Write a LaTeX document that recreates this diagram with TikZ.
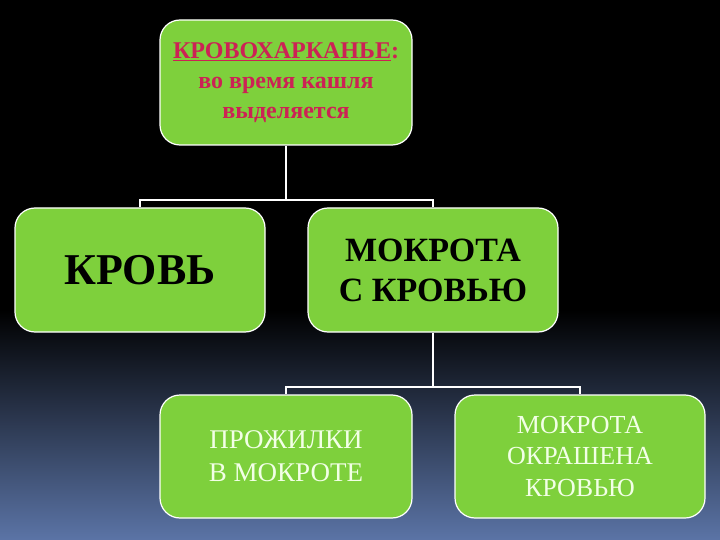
\documentclass[tikz,border=0pt]{standalone}
\usepackage{fontspec}
\setmainfont{Liberation Serif}
\definecolor{boxgreen}{HTML}{7ED03C}
\definecolor{crim}{HTML}{CC2255}
\definecolor{bgblue}{HTML}{5B74A6}
\definecolor{paletxt}{HTML}{F2FFE6}
\tikzset{
  gbox/.style={draw=white, line width=1.2pt, fill=boxgreen, rounded corners=20pt, align=center, inner sep=0pt},
  conn/.style={draw=white, line width=2pt}
}
\begin{document}
\begin{tikzpicture}[x=1pt,y=-1pt]
\useasboundingbox (0,0) rectangle (720,540);
\fill[black] (0,0) rectangle (720,540);
\shade[top color=black, bottom color=bgblue] (0,310) rectangle (720,540);
\node[gbox, minimum width=252pt, minimum height=125pt, text=crim, font=\bfseries\fontsize{24}{30}\selectfont] (top) at (286,82.5)
  {\underline{КРОВОХАРКАНЬЕ}:\\во время кашля\\выделяется};
\node[gbox, minimum width=250pt, minimum height=124pt, font=\bfseries\fontsize{44}{50}\selectfont] (km) at (140,270) {КРОВЬ};
\node[gbox, minimum width=250pt, minimum height=124pt, font=\bfseries\fontsize{34}{40}\selectfont] (mk) at (433,270) {МОКРОТА\\С КРОВЬЮ};
\node[gbox, minimum width=252pt, minimum height=123pt, text=paletxt, font=\fontsize{27}{33}\selectfont] (pm) at (286,456.5) {ПРОЖИЛКИ\\В МОКРОТЕ};
\node[gbox, minimum width=250pt, minimum height=123pt, text=paletxt, font=\fontsize{26}{31.5}\selectfont] (ok) at (580,456.5) {МОКРОТА\\ОКРАШЕНА\\КРОВЬЮ};
\coordinate (j1) at (286,200);
\coordinate (j2) at (433,387);
\draw[conn] (top.south) -- (j1);
\draw[conn] (km.north) |- (j1) -| (mk.north);
\draw[conn] (mk.south) -- (j2);
\draw[conn] (pm.north) |- (j2) -| (ok.north);
\end{tikzpicture}
\end{document}
